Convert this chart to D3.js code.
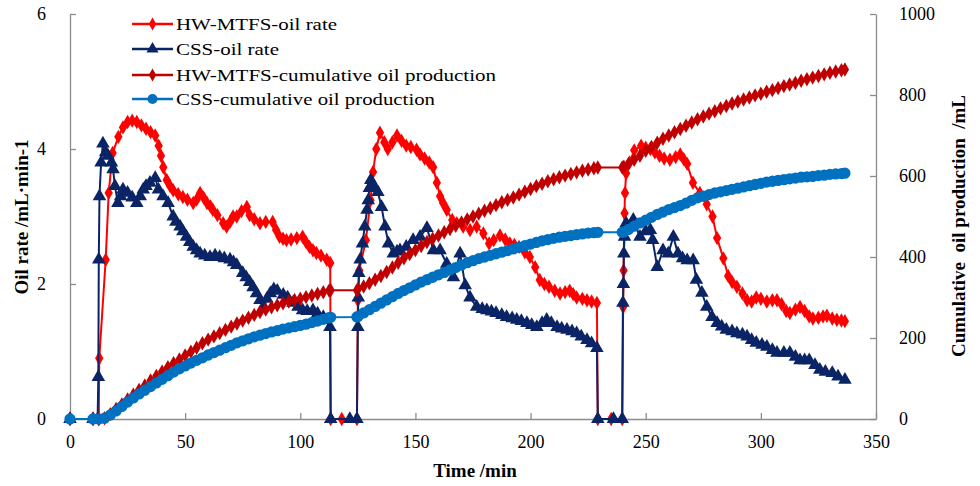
<!DOCTYPE html>
<html>
<head>
<meta charset="utf-8">
<script src="https://cdn.jsdelivr.net/npm/d3@7"></script>
<style>
  html, body { margin: 0; padding: 0; background: #fff; }
  svg text { font-family: "Liberation Serif", "Times New Roman", serif; fill: #000; }
</style>
</head>
<body>
<svg id="chart" width="980" height="486"></svg>
<script>
// ---- data ----
const seriesNames = [
  "HW-MTFS-oil rate",
  "CSS-oil rate",
  "HW-MTFS-cumulative oil production",
  "CSS-cumulative oil production"
];

const xTicks = [0, 50, 100, 150, 200, 250, 300, 350];
const yLeftTicks = [0, 2, 4, 6];
const yRightTicks = [0, 200, 400, 600, 800, 1000];

// HW-MTFS oil rate (mL/min)
const hwRateTime = [0,10,12.5,12.7,15.5,16.8,18.5,21,23,25,27,29,31,33,35,37,38.5,39.5,40.5,42,43.5,44.8,47,49,51,53.5,55,56.5,58,59.5,61,62,64,66.5,68,69.5,70.8,72.4,74.5,76.8,78,80,82.5,85,88,89.5,91,92.5,94,96,98.5,101,102.5,104,105.5,107,109,111.5,113,113.2,118,124.6,
  125,125.6,128.5,130.5,131.6,133,134.6,136.5,138,140,142,144,146,148,150.5,152,154,156,157.7,159.3,160.7,162,163.6,166,168,170.7,173.7,176.6,179.5,182,184,186.7,189,191,193,195,197.5,199.7,202,204,206,208,210.5,212.8,215,217,218.5,220,222.5,224.5,226.5,228.8,229.2,235,239.8,
  240.2,240.4,240.6,240.8,241,241.5,243,245,248,250,252,254,256,258,260.5,263,265,266.5,268,270.5,273.5,276.5,279,281,283.7,285.8,287.5,289.6,292,294,296,298,300,302.6,305,307,309,311,312.6,315,317,319,321,322.6,325,327,328.7,331,333,335,336.5];
const hwRate = [0,0,0,0.9,2.36,3.35,3.94,4.18,4.32,4.4,4.42,4.4,4.35,4.3,4.25,4.2,4.05,3.9,3.73,3.54,3.45,3.39,3.33,3.29,3.25,3.2,3.25,3.35,3.28,3.2,3.15,3.1,3.02,2.9,2.85,2.92,3.0,3.0,3.08,3.14,3.02,2.96,2.9,2.92,2.92,2.8,2.7,2.67,2.65,2.66,2.68,2.7,2.62,2.55,2.5,2.46,2.42,2.36,2.31,0,0,0,
  1.76,2.2,2.65,3.24,3.66,4.0,4.24,4.1,4.0,4.1,4.2,4.12,4.05,4.03,3.99,3.92,3.86,3.8,3.73,3.5,3.3,3.2,3.1,2.95,2.9,2.85,2.8,2.85,2.75,2.6,2.65,2.72,2.66,2.6,2.58,2.55,2.47,2.4,2.25,2.06,2.0,1.96,1.9,1.86,1.88,1.9,1.85,1.8,1.78,1.76,1.74,1.72,0,0,0,
  1.66,2.2,2.76,3.05,3.35,3.64,3.8,3.98,4.05,4.02,4.0,3.95,3.9,3.86,3.84,3.88,3.92,3.85,3.78,3.5,3.35,3.18,3.0,2.68,2.38,2.12,2.03,1.96,1.86,1.76,1.74,1.8,1.78,1.74,1.76,1.76,1.7,1.6,1.57,1.62,1.66,1.6,1.52,1.49,1.5,1.52,1.53,1.49,1.47,1.46,1.45];

// CSS oil rate (mL/min)
const cssRateTime = [0,10,12,12.3,12.5,12.8,13.5,14.3,15.5,16.5,18,18.7,19.5,20.8,22,23,25,27,29,30.5,31.8,33,34.7,37,38.4,40.4,42.6,44.8,46,47.8,49,50.6,52,53.5,55,56.5,58.5,60.8,63,65,67,69.5,71,72.4,75,76.5,78,79.5,81,82.5,84,85.5,87,88.5,90,92.6,94.5,96.8,99,101,103,105.5,107.5,110,112.9,113.2,121.5,124.6,
  125,125.2,125.4,126,127,128,129,129.5,130,130.6,132,133.7,135.3,136.8,138.3,140.4,142,143.3,146,149,152,155,157.8,160.7,163.6,166.5,169.4,171.6,173.7,176.6,179,181,183,185,187.5,189.6,192,194,196,198.4,200.5,202.7,205,207,209,211.5,213.5,215.8,218,220,222,224.5,226.5,228.8,229.2,236,239.8,
  240.1,240.3,240.5,240.8,241.5,244.6,247.5,250,252,253,255,257.5,259.8,262,264,266,268,270.6,272,274.4,276.5,278.8,281,283,285,287.5,289.6,292,294,296,298,300.5,302.6,305,307,310,312.6,315,317,319,321,323.5,325.6,328,331,333.5,336.5];
const cssRate = [0,0,0,0.62,2.36,3.3,3.8,4.08,3.95,3.9,3.8,3.7,3.45,3.2,3.3,3.4,3.35,3.28,3.2,3.3,3.4,3.45,3.5,3.57,3.4,3.3,3.2,3.0,2.92,2.85,2.78,2.7,2.62,2.55,2.5,2.45,2.42,2.4,2.42,2.4,2.38,2.36,2.32,2.28,2.16,2.1,2.03,1.95,1.86,1.76,1.66,1.78,1.86,1.92,1.9,1.84,1.8,1.72,1.66,1.61,1.6,1.61,1.56,1.51,1.36,0,0,0,
  1.36,1.8,2.16,2.36,2.6,2.85,3.1,3.24,3.42,3.54,3.45,3.36,3.14,2.85,2.6,2.45,2.48,2.5,2.55,2.65,2.7,2.83,2.5,2.5,2.3,2.1,2.45,1.98,1.8,1.66,1.63,1.61,1.59,1.57,1.54,1.51,1.49,1.47,1.45,1.42,1.39,1.36,1.42,1.47,1.42,1.36,1.34,1.32,1.3,1.27,1.22,1.17,1.12,1.05,0,0,0,
  1.72,2.0,2.45,2.7,2.9,2.95,2.7,2.78,2.8,2.65,2.25,2.5,2.45,2.7,2.45,2.38,2.35,2.35,2.06,1.87,1.66,1.51,1.42,1.37,1.32,1.3,1.27,1.25,1.22,1.17,1.13,1.1,1.07,1.02,0.98,0.98,0.98,0.92,0.87,0.87,0.87,0.8,0.73,0.7,0.68,0.63,0.58];

// Cumulative oil production (mL)
const hwCumTime = [0,10,12.5,15,17.5,20,22.5,25,27.5,30,32.5,35,37.5,40,42.5,45,47.5,50,52.5,55,57.5,60,62.5,65,67.5,70,72.5,75,77.5,80,82.5,85,87.5,90,92.5,95,97.5,100,102.5,105,107.5,110,112.5,113.2,124.6,
  125,127.5,130,132.5,135,137.5,140,142.5,145,147.5,150,152.5,155,157.5,160,162.5,165,167.5,170,172.5,175,177.5,180,182.5,185,187.5,190,192.5,195,197.5,200,202.5,205,207.5,210,212.5,215,217.5,220,222.5,225,227.5,229.2,239.8,
  240.5,242.5,245,247.5,250,252.5,255,257.5,260,262.5,265,267.5,270,272.5,275,277.5,280,282.5,285,287.5,290,292.5,295,297.5,300,302.5,305,307.5,310,312.5,315,317.5,320,322.5,325,327.5,330,332.5,335,336.5];
const hwCum = [0,0,0,2,12,25,36,48,60,72,83,95,106,117,128,138,147,157,166,176,187,196,204,212,220,228,236,243,250,257,264,270,276,281,286,290,294,297,301,305,309,313,317,318,318,
  320,327,335,344,353,363,374,386,397,407,417,427,437,445,453,461,469,477,485,493,500,507,514,521,528,535,541,547,554,561,568,575,581,587,592,597,601,605,609,613,616,619,621,621,
  623,630,640,650,662,672,682,692,700,708,716,724,732,740,747,754,760,767,773,779,784,789,794,799,803,808,812,817,822,826,830,835,839,843,847,851,855,858,861,863];

const cssCumTime = [0,10,12.5,15,17.5,20,22.5,25,27.5,30,32.5,35,37.5,40,42.5,45,47.5,50,52.5,55,57.5,60,62.5,65,67.5,70,72.5,75,77.5,80,82.5,85,87.5,90,92.5,95,97.5,100,102.5,105,107.5,110,112.5,113.2,124.6,
  125,127.5,130,132.5,135,137.5,140,142.5,145,147.5,150,152.5,155,157.5,160,162.5,165,167.5,170,172.5,175,177.5,180,182.5,185,187.5,190,192.5,195,197.5,200,202.5,205,207.5,210,212.5,215,217.5,220,222.5,225,227.5,229.2,239.8,
  240.5,242.5,245,247.5,250,252.5,255,257.5,260,262.5,265,267.5,270,272.5,275,277.5,280,282.5,285,287.5,290,292.5,295,297.5,300,302.5,305,307.5,310,312.5,315,317.5,320,322.5,325,327.5,330,332.5,335,336.5];
const cssCum = [0,0,0,2,10,20,31,42,52,62,71,80,89,98,107,116,124,131,138,145,151,158,164,170,176,182,188,193,198,203,207,211,215,218,222,225,228,231,234,238,242,246,250,251,252,
  253,262,270,278,286,294,302,310,317,324,331,338,344,350,356,362,368,374,380,386,391,396,400,404,408,412,416,420,424,428,432,436,440,443,446,449,451,453,455,457,459,460,461,461,
  462,468,476,484,491,498,505,511,517,522,527,533,540,546,550,554,558,561,564,567,570,573,576,579,582,585,587,589,591,593,595,597,598,599,601,602,604,605,606,607];

// ---- layout ----
const svg = d3.select("#chart");
const plot = { left: 70, right: 876, top: 14, bottom: 419 };

const x = d3.scaleLinear().domain([0, 350]).range([plot.left, plot.right]);
const yL = d3.scaleLinear().domain([0, 6]).range([plot.bottom, plot.top]);
const yR = d3.scaleLinear().domain([0, 1000]).range([plot.bottom, plot.top]);

const axisColor = "#8c8c8c";
const plain = d3.format("d");

// axes with inward ticks
const gx = svg.append("g").attr("transform", `translate(0,${plot.bottom})`)
  .call(d3.axisBottom(x).tickValues(xTicks).tickFormat(plain).tickSizeInner(-6).tickSizeOuter(0).tickPadding(16));
const gl = svg.append("g").attr("transform", `translate(${plot.left},0)`)
  .call(d3.axisLeft(yL).tickValues(yLeftTicks).tickFormat(plain).tickSizeInner(-6).tickSizeOuter(0).tickPadding(24));
const gr = svg.append("g").attr("transform", `translate(${plot.right},0)`)
  .call(d3.axisRight(yR).tickValues(yRightTicks).tickFormat(plain).tickSizeInner(-6).tickSizeOuter(0).tickPadding(23));

[gx, gl, gr].forEach(g => {
  g.select(".domain").attr("stroke", axisColor).attr("stroke-width", 1.3);
  g.selectAll(".tick line").attr("stroke", axisColor).attr("stroke-width", 1.3);
  g.selectAll(".tick text")
    .style("font-family", "'Liberation Serif', 'Times New Roman', serif")
    .style("font-size", "18px").attr("fill", "#000");
});

// axis titles
svg.append("text").attr("x", 475).attr("y", 477).attr("text-anchor", "middle")
  .style("font-size", "19px").style("font-weight", "bold").text("Time /min");
svg.append("text").attr("transform", "translate(28,217) rotate(-90)").attr("text-anchor", "middle")
  .style("font-size", "19px").style("font-weight", "bold").text("Oil rate /mL·min-1");
svg.append("text").attr("transform", "translate(965,226) rotate(-90)").attr("text-anchor", "middle")
  .style("font-size", "19px").style("font-weight", "bold").style("white-space", "pre")
  .text("Cumulative  oil production  /mL");

// ---- series ----
const series = [
  { name: seriesNames[0], t: hwRateTime, v: hwRate, y: yL, color: "#ff0000", symbol: d3.symbolDiamond, size: 60 },
  { name: seriesNames[1], t: cssRateTime, v: cssRate, y: yL, color: "#0a2466", symbol: d3.symbolTriangle, size: 80 },
  { name: seriesNames[2], t: hwCumTime, v: hwCum, y: yR, color: "#c00000", symbol: d3.symbolDiamond, size: 60 },
  { name: seriesNames[3], t: cssCumTime, v: cssCum, y: yR, color: "#0070c0", symbol: d3.symbolCircle, size: 100 }
];

series.forEach(s => {
  const pts = s.t.map((t, i) => [t, s.v[i]]);
  const line = d3.line().x(d => x(d[0])).y(d => s.y(d[1]));
  const g = svg.append("g");
  g.append("path").datum(pts).attr("d", line)
    .attr("fill", "none").attr("stroke", s.color).attr("stroke-width", 2);
  g.selectAll("path.m").data(pts).join("path").attr("class", "m")
    .attr("transform", d => `translate(${x(d[0])},${s.y(d[1])})`)
    .attr("d", d3.symbol().type(s.symbol).size(s.size))
    .attr("fill", s.color);
});

// ---- legend ----
const legendRows = [24, 49, 75, 99];
const legendWidths = [161, 103, 320, 259];
series.forEach((s, i) => {
  const yy = legendRows[i];
  const g = svg.append("g");
  g.append("line").attr("x1", 132).attr("x2", 173).attr("y1", yy).attr("y2", yy)
    .attr("stroke", s.color).attr("stroke-width", 2.5);
  g.append("path").attr("transform", `translate(152.5,${yy})`)
    .attr("d", d3.symbol().type(s.symbol).size(s.size * 0.8)).attr("fill", s.color);
  g.append("text").attr("x", 176).attr("y", yy + 6)
    .attr("textLength", legendWidths[i]).attr("lengthAdjust", "spacingAndGlyphs")
    .style("font-size", "17.5px").text(s.name);
});
</script>
</body>
</html>
